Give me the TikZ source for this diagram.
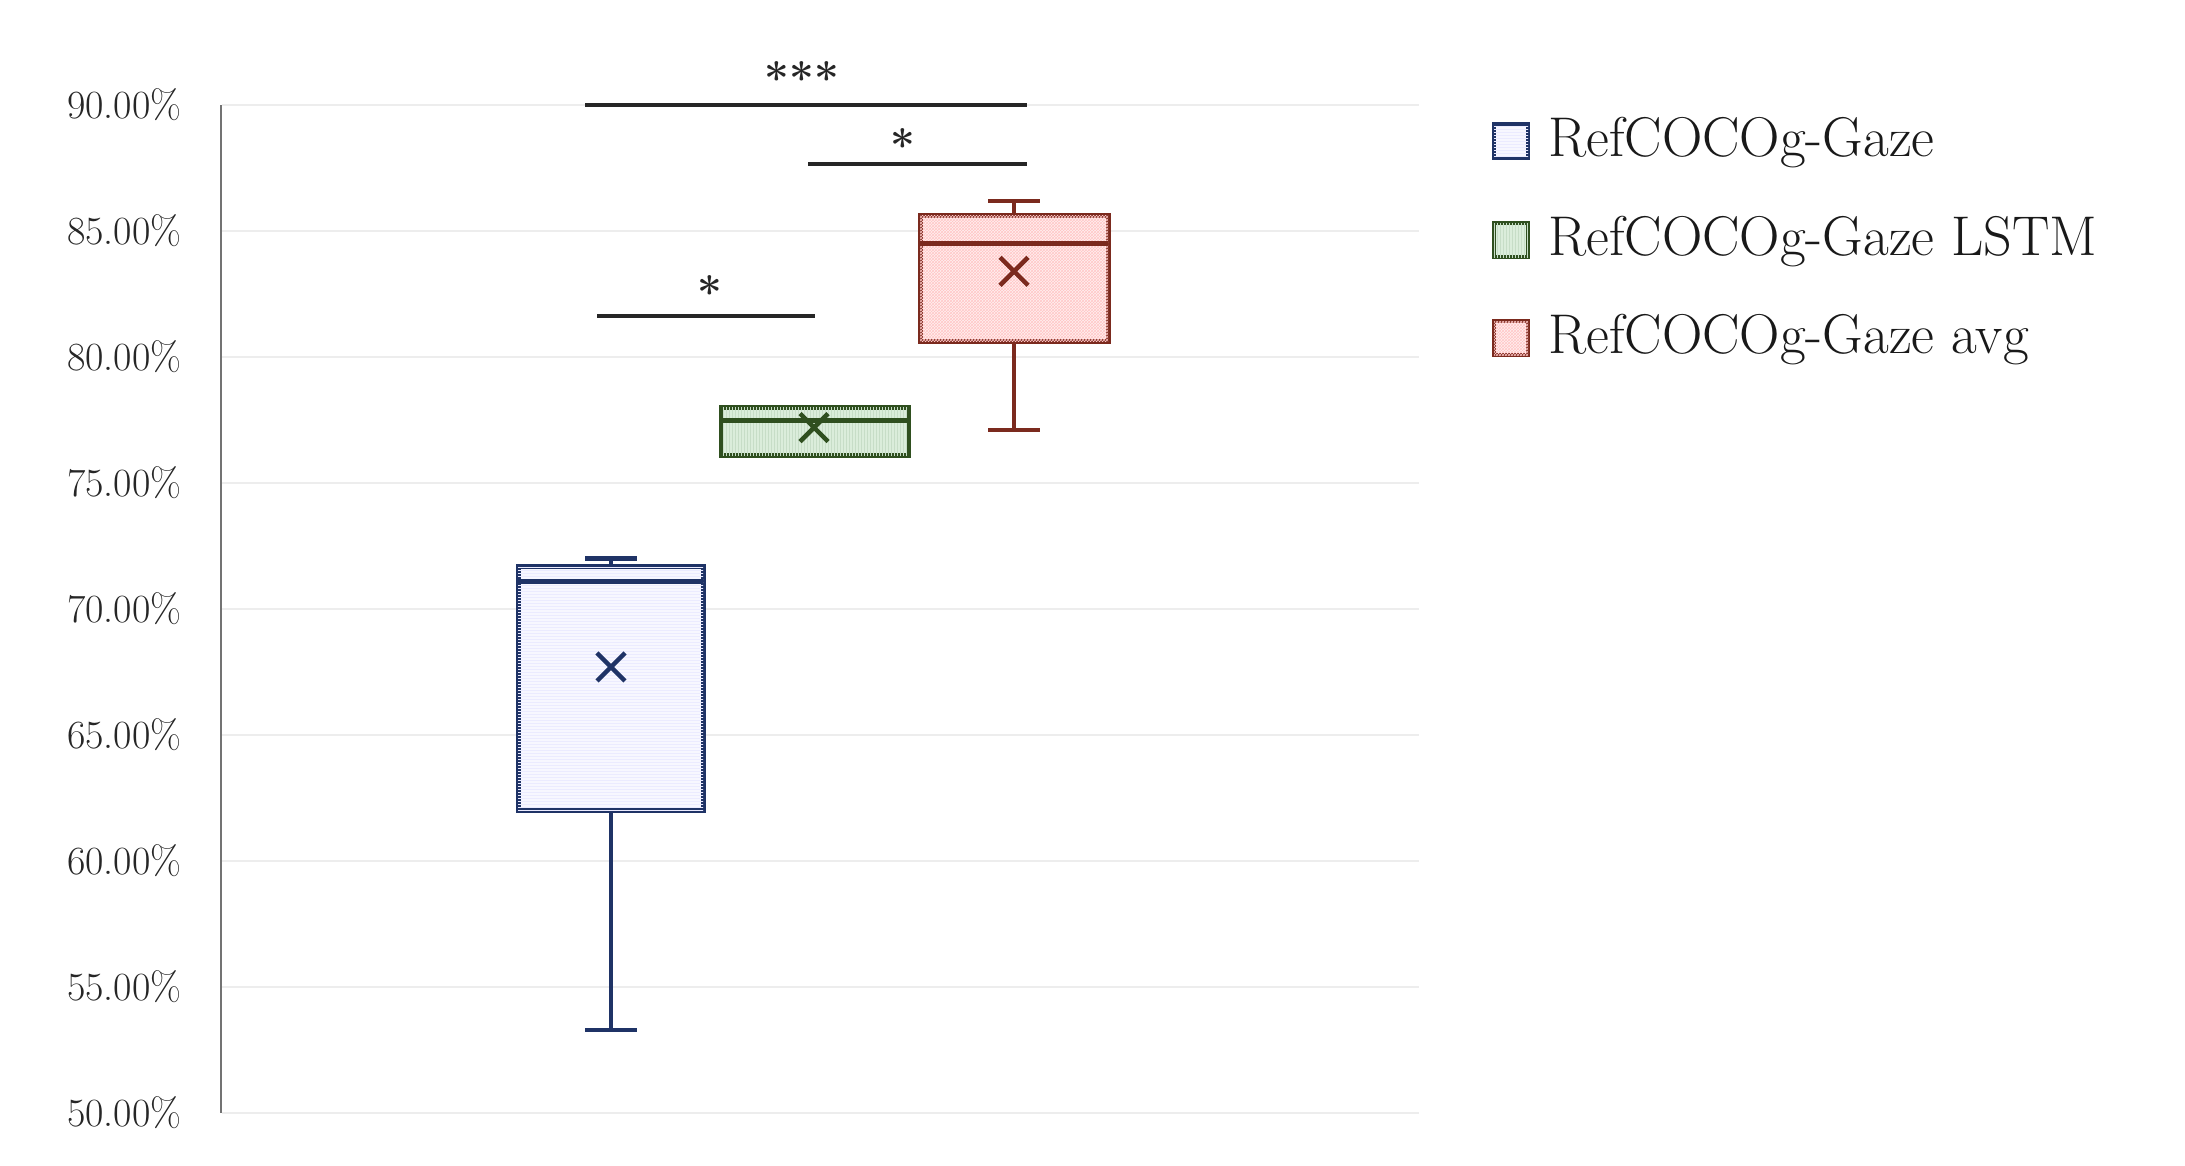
\documentclass[tikz,border=0pt]{standalone}
\usetikzlibrary{patterns}
\definecolor{cA}{HTML}{1F3366}
\definecolor{cB}{HTML}{2F4F1F}
\definecolor{cC}{HTML}{7B2A1E}
\begin{document}
\begin{tikzpicture}[x=1pt,y=-1pt,
  grid/.style={line width=2.5pt,black!7},
  tick/.style={font=\fontsize{40}{40}\selectfont,anchor=east,text=black!85},
  leg/.style={font=\fontsize{56}{56}\selectfont,anchor=west,text=black!90},
  sig/.style={line width=3.5pt,black!85},
  star/.style={font=\fontsize{44}{44}\selectfont\bfseries,text=black!85},
  bxA/.style={draw=cA,line width=5pt,fill=blue!3,postaction={pattern=horizontal lines,pattern color=blue!8}},
  bxB/.style={draw=cB,line width=5pt,fill=green!50!black!14,postaction={pattern=vertical lines,pattern color=green!40!black!22}},
  bxC/.style={draw=cC,line width=5pt,fill=red!6,postaction={pattern=crosshatch,pattern color=red!22}},
  wk/.style={line width=4.5pt}]
\useasboundingbox (0,0) rectangle (2185,1165);
\def\Y#1{105+(90-#1)*25.2}
\foreach \v in {50,55,...,90}{
  \draw[grid] (222,{\Y{\v}}) -- (1419,{\Y{\v}});
  \node[tick] at (185,{\Y{\v}}) {\v.00\%};
}
\draw[line width=2.5pt,black!55] (221,{\Y{90}}) -- (221,{\Y{50}});
\newcommand\mybox[6]{% x, min, q1, q3, max, color
  \draw[#6,wk] (#1,{\Y{#2}}) -- (#1,{\Y{#3}}) (#1,{\Y{#4}}) -- (#1,{\Y{#5}});
  \draw[#6,wk] (#1-26,{\Y{#2}}) -- (#1+26,{\Y{#2}}) (#1-26,{\Y{#5}}) -- (#1+26,{\Y{#5}});
}
\newcommand\mymean[3]{\draw[#3,line width=4.5pt] (#1-14,{\Y{#2}-14}) -- (#1+14,{\Y{#2}+14}) (#1-14,{\Y{#2}+14}) -- (#1+14,{\Y{#2}-14});}
% blue
\mybox{611}{53.3}{62}{71.7}{72}{cA}
\draw[bxA] (518,{\Y{62}}) rectangle (703,{\Y{71.7}});
\draw[cA,line width=5pt] (518,{\Y{71.1}}) -- (703,{\Y{71.1}});
\mymean{611}{67.7}{cA}
% green
\mybox{814}{76.1}{76.1}{78}{78}{cB}
\draw[bxB] (721,{\Y{76.1}}) rectangle (908,{\Y{78}});
\draw[cB,line width=5pt] (721,{\Y{77.5}}) -- (908,{\Y{77.5}});
\mymean{814}{77.2}{cB}
% red
\mybox{1014}{77.1}{80.6}{85.6}{86.2}{cC}
\draw[bxC] (920,{\Y{80.6}}) rectangle (1108,{\Y{85.6}});
\draw[cC,line width=5pt] (920,{\Y{84.5}}) -- (1108,{\Y{84.5}});
\mymean{1014}{83.4}{cC}
% significance
\coordinate (s1a) at (585,105); \coordinate (s1b) at (1027,105);
\draw[sig] (s1a) -- (s1b);
\node[star] (st1) at (802,78) {***};
\coordinate (s2a) at (808,164); \coordinate (s2b) at (1027,164);
\draw[sig] (s2a) -- (s2b);
\node[star] (st2) at (903,145) {*};
\coordinate (s3a) at (597,316); \coordinate (s3b) at (815,316);
\draw[sig] (s3a) -- (s3b);
\node[star] (st3) at (710,292) {*};
% legend
\draw[bxA,line width=4.5pt] (1494,124) rectangle (1528,158);
\node[leg] (lA) at (1545,143) {RefCOCOg-Gaze};
\draw[bxB,line width=4.5pt] (1494,223) rectangle (1528,257);
\node[leg] (lB) at (1545,242) {RefCOCOg-Gaze LSTM};
\draw[bxC,line width=4.5pt] (1494,321) rectangle (1528,355);
\node[leg] (lC) at (1545,340) {RefCOCOg-Gaze avg};
\end{tikzpicture}
\end{document}
